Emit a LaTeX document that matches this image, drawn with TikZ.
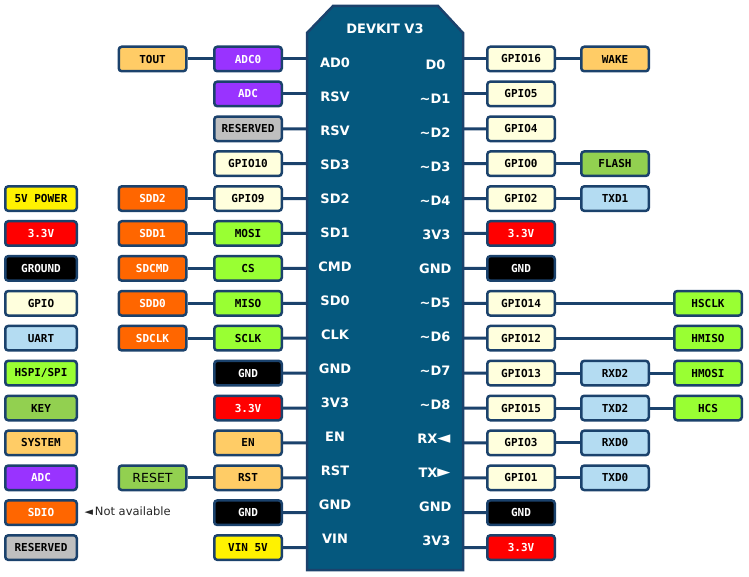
\documentclass[tikz,border=0pt]{standalone}
\usepackage{fontspec}
\setmainfont{DejaVu Sans}
\setmonofont{DejaVu Sans Mono}
\definecolor{boardblue}{RGB}{5,88,126}
\definecolor{edge}{RGB}{27,66,108}
\definecolor{gpiocol}{RGB}{255,255,221}
\definecolor{uartcol}{RGB}{180,220,242}
\definecolor{spicol}{RGB}{153,255,51}
\definecolor{keycol}{RGB}{146,208,80}
\definecolor{syscol}{RGB}{255,204,102}
\definecolor{adccol}{RGB}{153,51,255}
\definecolor{sdiocol}{RGB}{255,102,0}
\definecolor{rescol}{RGB}{191,191,191}
\tikzset{
  box/.style={draw=edge, line width=2.5pt, rounded corners=3pt, minimum width=67.5pt,
    minimum height=24.5pt, inner sep=0pt, font=\fontsize{11}{13}\selectfont\ttfamily\bfseries},
  wide/.style={minimum width=71.5pt},
  gpio/.style={box, fill=gpiocol},
  uart/.style={box, fill=uartcol},
  spi/.style={box, fill=spicol},
  keybox/.style={box, fill=keycol},
  sys/.style={box, fill=syscol},
  adc/.style={box, fill=adccol, text=white},
  sdio/.style={box, fill=sdiocol, text=white},
  res/.style={box, fill=rescol},
  gnd/.style={box, fill=black, text=white},
  vthree/.style={box, fill=red, text=white},
  vfive/.style={box, fill=yellow},
  wire/.style={draw=edge, line width=3pt},
  pinlabel/.style={text=white, font=\fontsize{13}{15}\selectfont\bfseries},
}
\begin{document}
\begin{tikzpicture}[x=1pt, y=-1pt]
    \useasboundingbox (0,0) rectangle (749,577);
    % board outline with chamfered top corners
    \draw[fill=boardblue, draw=edge, line width=2.5pt] (333,6) -- (438,6) -- (463,33) -- (463,570)
        -- (307,570) -- (307,33) -- cycle;
    \node[pinlabel] (title) at (385,29) {DEVKIT V3};
    \foreach \i in {0,...,14} {
        \coordinate (pL\i) at (307,{59+34.9*\i});
        \coordinate (pR\i) at (463,{59+34.9*\i});
    }
    % pin names on the board
    \node[pinlabel] (nL0) at (335,63) {AD0};
    \node[pinlabel] (nL1) at (335,97) {RSV};
    \node[pinlabel] (nL2) at (335,131) {RSV};
    \node[pinlabel] (nL3) at (335,165) {SD3};
    \node[pinlabel] (nL4) at (335,199) {SD2};
    \node[pinlabel] (nL5) at (335,233) {SD1};
    \node[pinlabel] (nL6) at (335,267) {CMD};
    \node[pinlabel] (nL7) at (335,301) {SD0};
    \node[pinlabel] (nL8) at (335,335) {CLK};
    \node[pinlabel] (nL9) at (335,369) {GND};
    \node[pinlabel] (nL10) at (335,403) {3V3};
    \node[pinlabel] (nL11) at (335,437) {EN};
    \node[pinlabel] (nL12) at (335,471) {RST};
    \node[pinlabel] (nL13) at (335,505) {GND};
    \node[pinlabel] (nL14) at (335,539) {VIN};
    \node[pinlabel, anchor=east] (nR0) at (449,65) {D0};
    \node[pinlabel, anchor=east] (nR1) at (454,99) {\textasciitilde D1};
    \node[pinlabel, anchor=east] (nR2) at (454,133) {\textasciitilde D2};
    \node[pinlabel, anchor=east] (nR3) at (454,167) {\textasciitilde D3};
    \node[pinlabel, anchor=east] (nR4) at (454,201) {\textasciitilde D4};
    \node[pinlabel, anchor=east] (nR5) at (454,235) {3V3};
    \node[pinlabel, anchor=east] (nR6) at (455,269) {GND};
    \node[pinlabel, anchor=east] (nR7) at (454,303) {\textasciitilde D5};
    \node[pinlabel, anchor=east] (nR8) at (454,337) {\textasciitilde D6};
    \node[pinlabel, anchor=east] (nR9) at (454,371) {\textasciitilde D7};
    \node[pinlabel, anchor=east] (nR10) at (454,405) {\textasciitilde D8};
    \node[pinlabel, anchor=east] (nR11) at (454,439) {RX{\fontsize{17}{17}\selectfont\raisebox{-0.5pt}{◄}}};
    \node[pinlabel, anchor=east] (nR12) at (454,473) {TX{\fontsize{17}{17}\selectfont\raisebox{-0.5pt}{►}}};
    \node[pinlabel, anchor=east] (nR13) at (455,507) {GND};
    \node[pinlabel, anchor=east] (nR14) at (454,541) {3V3};
    % left side pins
    \node[adc] (adc0) at (248,59) {ADC0};
    \node[adc] (adc) at (248,93.9) {ADC};
    \node[res] (rsv) at (248,128.8) {RESERVED};
    \node[gpio] (gpio10) at (248,163.7) {GPIO10};
    \node[gpio] (gpio9) at (248,198.6) {GPIO9};
    \node[spi] (mosi) at (248,233.5) {MOSI};
    \node[spi] (cs) at (248,268.4) {CS};
    \node[spi] (miso) at (248,303.3) {MISO};
    \node[spi] (sclk) at (248,338.2) {SCLK};
    \node[gnd] (gndL1) at (248,373.1) {GND};
    \node[vthree] (vL) at (248,408) {3.3V};
    \node[sys] (en) at (248,442.9) {EN};
    \node[sys] (rst) at (248,477.8) {RST};
    \node[gnd] (gndL2) at (248,512.7) {GND};
    \node[vfive] (vin) at (248,547.6) {VIN 5V};
    \node[sys] (tout) at (152.5,59) {TOUT};
    \node[sdio] (sdd2) at (152.5,198.6) {SDD2};
    \node[sdio] (sdd1) at (152.5,233.5) {SDD1};
    \node[sdio] (sdcmd) at (152.5,268.4) {SDCMD};
    \node[sdio] (sdd0) at (152.5,303.3) {SDD0};
    \node[sdio] (sdclk) at (152.5,338.2) {SDCLK};
    \node[keybox, font=\fontsize{12.5}{14}\selectfont] (reset) at (152.5,477.8) {RESET};
    % right side pins
    \node[gpio] (gpio16) at (521,59) {GPIO16};
    \node[gpio] (gpio5) at (521,93.9) {GPIO5};
    \node[gpio] (gpio4) at (521,128.8) {GPIO4};
    \node[gpio] (gpio0) at (521,163.7) {GPIO0};
    \node[gpio] (gpio2) at (521,198.6) {GPIO2};
    \node[vthree] (vR1) at (521,233.5) {3.3V};
    \node[gnd] (gndR1) at (521,268.4) {GND};
    \node[gpio] (gpio14) at (521,303.3) {GPIO14};
    \node[gpio] (gpio12) at (521,338.2) {GPIO12};
    \node[gpio] (gpio13) at (521,373.1) {GPIO13};
    \node[gpio] (gpio15) at (521,408) {GPIO15};
    \node[gpio] (gpio3) at (521,442.9) {GPIO3};
    \node[gpio] (gpio1) at (521,477.8) {GPIO1};
    \node[gnd] (gndR2) at (521,512.7) {GND};
    \node[vthree] (vR2) at (521,547.6) {3.3V};
    \node[sys] (wake) at (615,59) {WAKE};
    \node[keybox] (flash) at (615,163.7) {FLASH};
    \node[uart] (txd1) at (615,198.6) {TXD1};
    \node[uart] (rxd2) at (615,373.1) {RXD2};
    \node[uart] (txd2) at (615,408) {TXD2};
    \node[uart] (rxd0) at (615,442.9) {RXD0};
    \node[uart] (txd0) at (615,477.8) {TXD0};
    \node[spi] (hsclk) at (708,303.3) {HSCLK};
    \node[spi] (hmiso) at (708,338.2) {HMISO};
    \node[spi] (hmosi) at (708,373.1) {HMOSI};
    \node[spi] (hcs) at (708,408) {HCS};
    % legend
    \node[vfive, wide] (lg5v) at (41,198.6) {5V POWER};
    \node[vthree, wide] (lg33) at (41,233.5) {3.3V};
    \node[gnd, wide] (lggnd) at (41,268.4) {GROUND};
    \node[gpio, wide] (lggpio) at (41,303.3) {GPIO};
    \node[uart, wide] (lguart) at (41,338.2) {UART};
    \node[spi, wide] (lgspi) at (41,373.1) {HSPI/SPI};
    \node[keybox, wide] (lgkey) at (41,408) {KEY};
    \node[sys, wide] (lgsys) at (41,442.9) {SYSTEM};
    \node[adc, wide] (lgadc) at (41,477.8) {ADC};
    \node[sdio, wide] (lgsdio) at (41,512.7) {SDIO};
    \node[res, wide] (lgres) at (41,547.6) {RESERVED};
    \node[anchor=west, text=black!85, font=\fontsize{11.5}{13}\selectfont] (na) at (81,511.5)
        {{\fontsize{11}{11}\selectfont\raisebox{0pt}{◄}}\,Not available};
    % connectors
    \foreach \n/\p in {adc0/0, adc/1, rsv/2, gpio10/3, gpio9/4, mosi/5, cs/6, miso/7, sclk/8,
        gndL1/9, vL/10, en/11, rst/12, gndL2/13, vin/14}
        \draw[wire] (\n.east) -- (pL\p);
    \foreach \n/\p in {gpio16/0, gpio5/1, gpio4/2, gpio0/3, gpio2/4, vR1/5, gndR1/6, gpio14/7,
        gpio12/8, gpio13/9, gpio15/10, gpio3/11, gpio1/12, gndR2/13, vR2/14}
        \draw[wire] (pR\p) -- (\n.west);
    \foreach \a/\b in {tout/adc0, sdd2/gpio9, sdd1/mosi, sdcmd/cs, sdd0/miso, sdclk/sclk, reset/rst,
        gpio16/wake, gpio0/flash, gpio2/txd1, gpio14/hsclk, gpio12/hmiso, gpio13/rxd2,
        rxd2/hmosi, gpio15/txd2, txd2/hcs, gpio3/rxd0, gpio1/txd0}
        \draw[wire] (\a.east) -- (\b.west);
\end{tikzpicture}
\end{document}
